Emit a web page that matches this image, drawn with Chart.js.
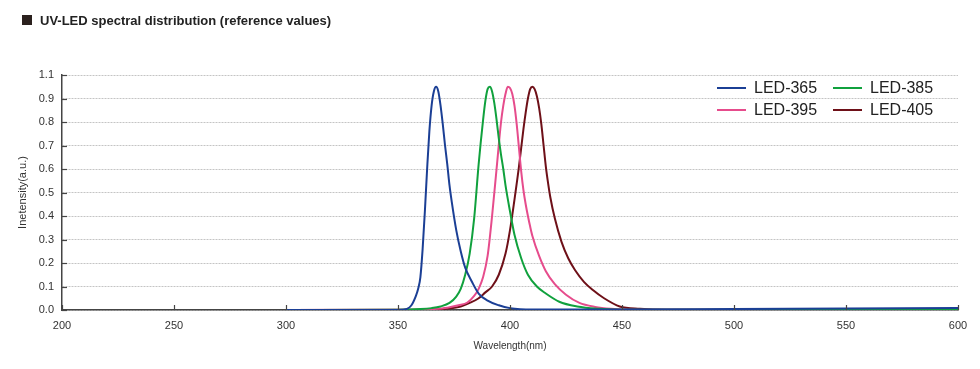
<!DOCTYPE html>
<html>
<head>
<meta charset="utf-8">
<script src="https://cdn.jsdelivr.net/npm/chart.js@4"></script>
<style>
  body { margin: 0; background: #fff; }
  #wrap { position: relative; width: 980px; height: 369px; }
  #titulo {
    position: absolute; left: 40px; top: 13px;
    font: bold 13px "Liberation Sans", Arial, sans-serif; color: #222;
  }
  #quadrado {
    position: absolute; left: 22px; top: 15px; width: 10px; height: 10px; background: #2b211e;
  }
</style>
</head>
<body>
<div id="wrap">
  <div id="quadrado"></div>
  <div id="titulo">UV-LED spectral distribution (reference values)</div>
  <canvas id="grafico" width="980" height="369"></canvas>
</div>
<script>
const seriesNames = ["LED-365", "LED-385", "LED-395", "LED-405"];
const seriesColors = ["#1b3f95", "#10a13d", "#e64c8c", "#6e1018"];

const wl365 = [300, 350, 354, 356, 358, 359, 360, 361, 362, 363, 364, 365, 366, 367, 368, 369, 370, 371, 372, 373, 374, 376, 378, 380, 383, 386, 390, 395, 400, 410, 450, 500, 550, 600];
const int365 = [0, 0, 0.005, 0.02, 0.06, 0.09, 0.14, 0.26, 0.42, 0.6, 0.76, 0.87, 0.93, 0.95, 0.93, 0.87, 0.79, 0.7, 0.62, 0.53, 0.46, 0.34, 0.25, 0.18, 0.12, 0.07, 0.04, 0.02, 0.008, 0.002, 0.002, 0.004, 0.006, 0.008];

const wl385 = [300, 350, 360, 365, 369, 373, 376, 378, 380, 382, 384, 386, 388, 389, 390, 391, 392, 393, 394, 395, 396, 397, 398, 400, 402, 405, 408, 412, 416, 422, 430, 440, 450, 600];
const int385 = [0, 0.001, 0.004, 0.008, 0.015, 0.03, 0.057, 0.09, 0.15, 0.24, 0.39, 0.62, 0.81, 0.89, 0.94, 0.95, 0.93, 0.88, 0.81, 0.73, 0.66, 0.6, 0.53, 0.42, 0.32, 0.22, 0.15, 0.1, 0.07, 0.035, 0.015, 0.005, 0.001, 0];

const wl395 = [300, 360, 366, 372, 377, 381, 384, 386, 388, 390, 392, 394, 396, 397, 398, 399, 400, 401, 402, 403, 404, 405, 406, 407, 408, 409, 410, 413, 416, 420, 425, 431, 438, 445, 455, 600];
const int395 = [0, 0.001, 0.004, 0.01, 0.02, 0.032, 0.06, 0.09, 0.14, 0.23, 0.4, 0.6, 0.8, 0.87, 0.92, 0.95, 0.945, 0.92, 0.87, 0.79, 0.69, 0.59, 0.51, 0.45, 0.4, 0.355, 0.315, 0.23, 0.165, 0.11, 0.065, 0.03, 0.013, 0.005, 0.001, 0];

const wl405 = [300, 365, 372, 378, 382, 386, 389, 392, 395, 398, 400, 402, 404, 406, 407, 408, 409, 410, 411, 412, 413, 414, 415, 416, 417, 418, 420, 423, 426, 429, 433, 437, 442, 449, 458, 470, 600];
const int405 = [0, 0.001, 0.006, 0.015, 0.03, 0.05, 0.075, 0.1, 0.15, 0.24, 0.34, 0.47, 0.61, 0.77, 0.84, 0.9, 0.94, 0.95, 0.94, 0.91, 0.86, 0.79, 0.7, 0.61, 0.54, 0.48, 0.39, 0.29, 0.22, 0.17, 0.12, 0.085, 0.05, 0.015, 0.005, 0.001, 0];

const xTicks = [200, 250, 300, 350, 400, 450, 500, 550, 600];
const yTicks = [0, 0.1, 0.2, 0.3, 0.4, 0.5, 0.6, 0.7, 0.8, 0.9, 1.0];
const yTickLabels = ["0.0", "0.1", "0.2", "0.3", "0.4", "0.5", "0.6", "0.7", "0.8", "0.9", "1.1"];

const wlList = [wl365, wl385, wl395, wl405];
const intList = [int365, int385, int395, int405];

function pontos(xs, ys) {
  return xs.map((x, i) => ({ x: x, y: ys[i] }));
}

const fonte = '"Liberation Sans", Arial, sans-serif';

// marcas dos eixos e legenda em 2x2 dentro do grafico
const extras = {
  id: "extras",
  afterDraw(chart) {
    const ctx = chart.ctx;
    const xs = chart.scales.x;
    const ys = chart.scales.y;
    const area = chart.chartArea;
    ctx.save();
    ctx.strokeStyle = "#444";
    ctx.lineWidth = 1.2;
    xTicks.forEach((v) => {
      const px = Math.round(xs.getPixelForValue(v)) + 0.5;
      ctx.beginPath();
      ctx.moveTo(px, area.bottom);
      ctx.lineTo(px, area.bottom - 5);
      ctx.stroke();
    });
    yTicks.forEach((v) => {
      const py = Math.round(ys.getPixelForValue(v)) + 0.5;
      ctx.beginPath();
      ctx.moveTo(area.left, py);
      ctx.lineTo(area.left + 5, py);
      ctx.stroke();
    });

    const colX = [717, 833];
    const rowY = [88, 110];
    ctx.font = "16px " + fonte;
    ctx.textBaseline = "middle";
    chart.data.datasets.forEach((ds, i) => {
      const cx = colX[i % 2];
      const cy = rowY[Math.floor(i / 2)];
      ctx.strokeStyle = ds.borderColor;
      ctx.lineWidth = 2;
      ctx.beginPath();
      ctx.moveTo(cx, cy);
      ctx.lineTo(cx + 29, cy);
      ctx.stroke();
      ctx.fillStyle = "#222";
      ctx.fillText(ds.label, cx + 37, cy + 1);
    });
    ctx.restore();
  },
};

const ctx = document.getElementById("grafico").getContext("2d");
const grafico = new Chart(ctx, {
  type: "line",
  data: {
    datasets: seriesNames.map((nome, i) => ({
      label: nome,
      data: pontos(wlList[i], intList[i]),
      borderColor: seriesColors[i],
      backgroundColor: seriesColors[i],
      borderWidth: 2,
      pointRadius: 0,
      fill: false,
      cubicInterpolationMode: "monotone",
    })),
  },
  options: {
    responsive: false,
    animation: false,
    layout: { padding: { top: 75, right: 22, left: 0, bottom: 0 } },
    plugins: {
      legend: { display: false },
      title: { display: false },
      tooltip: { enabled: false },
    },
    scales: {
      x: {
        type: "linear",
        min: 200,
        max: 600,
        afterFit: (s) => { s.height = 59; },
        afterBuildTicks: (s) => { s.ticks = xTicks.map((v) => ({ value: v })); },
        grid: { display: false, drawTicks: false },
        border: { display: true, color: "#444", width: 1.5 },
        ticks: {
          padding: 9,
          color: "#333",
          font: { family: fonte, size: 11 },
          maxRotation: 0,
        },
        title: {
          display: true,
          text: "Wavelength(nm)",
          color: "#333",
          font: { family: fonte, size: 10 },
          padding: { top: 0, bottom: 17 },
        },
      },
      y: {
        min: 0,
        max: 1.0,
        afterFit: (s) => { s.width = 62; },
        afterBuildTicks: (s) => { s.ticks = yTicks.map((v) => ({ value: v })); },
        grid: { display: true, drawTicks: false, color: "#c4c4c4", lineWidth: 1 },
        border: { display: true, color: "#444", width: 1.5, dash: [2, 1] },
        ticks: {
          padding: 8,
          color: "#333",
          font: { family: fonte, size: 11 },
          callback: (v, i) => yTickLabels[i],
        },
        title: {
          display: true,
          text: "Inetensity(a.u.)",
          color: "#333",
          font: { family: fonte, size: 11 },
          padding: { top: 16, bottom: 0 },
        },
      },
    },
  },
  plugins: [extras],
});
</script>
</body>
</html>
